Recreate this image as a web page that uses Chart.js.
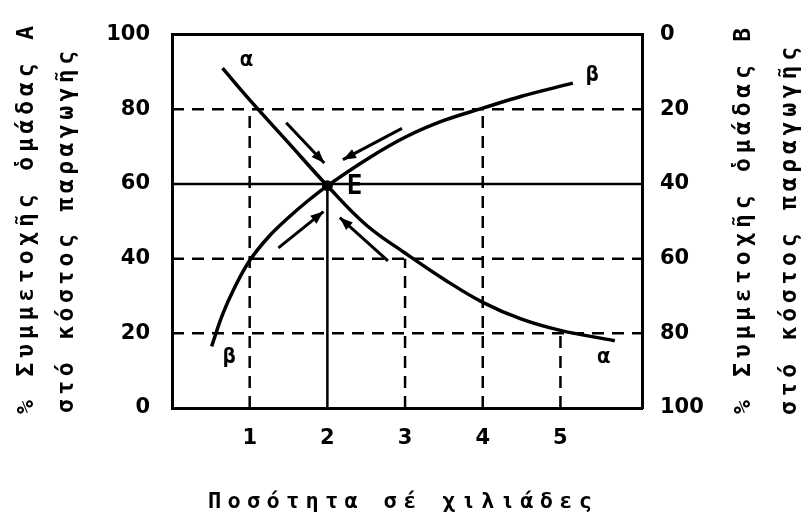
<!DOCTYPE html>
<html lang="el">
<head>
<meta charset="UTF-8">
<title>Ποσότητα σέ χιλιάδες</title>
<script src="https://cdn.jsdelivr.net/npm/chart.js"></script>
<style>
  html, body { margin: 0; padding: 0; background: #fff; }
  #wrap { width: 803px; height: 516px; }
</style>
</head>
<body>
<div id="wrap"><canvas id="chart" width="803" height="516"></canvas></div>
<script>
// tick labels
const xTicks = [1, 2, 3, 4, 5];
const yTicksLeft = [0, 20, 40, 60, 80, 100];
const yTicksRight = [0, 20, 40, 60, 80, 100];

// curve α (group A share, falling) and curve β (rising)
const curveA = [
  {x: 0.65, y: 91}, {x: 1, y: 82.5}, {x: 1.5, y: 71}, {x: 2, y: 59.5},
  {x: 2.5, y: 49}, {x: 3, y: 41.5}, {x: 3.5, y: 34.5}, {x: 4, y: 28.3},
  {x: 4.5, y: 23.8}, {x: 5, y: 20.8}, {x: 5.7, y: 18}
];
const curveB = [
  {x: 0.51, y: 16.5}, {x: 0.65, y: 25}, {x: 0.8, y: 32}, {x: 1, y: 39.5},
  {x: 1.25, y: 46}, {x: 1.5, y: 51}, {x: 1.75, y: 55.5}, {x: 2, y: 59.5},
  {x: 2.5, y: 66.5}, {x: 3, y: 72.5}, {x: 3.5, y: 77}, {x: 4, y: 80.3},
  {x: 4.5, y: 83.5}, {x: 5.16, y: 87}
];
const pointE = [{x: 2, y: 59.5}];

// arrows pointing to equilibrium E (from, to)
const arrows = [
  [{x: 1.47, y: 76.4}, {x: 1.96, y: 65.6}],
  [{x: 2.96, y: 74.9}, {x: 2.2, y: 66.5}],
  [{x: 1.37, y: 42.9}, {x: 1.95, y: 52.6}],
  [{x: 2.78, y: 39.4}, {x: 2.16, y: 51}]
];

// reference lines
const xMax = 6.05;
const dashedLines = [
  [{x: 0, y: 80}, {x: xMax, y: 80}],
  [{x: 0, y: 40}, {x: xMax, y: 40}],
  [{x: 0, y: 20}, {x: xMax, y: 20}],
  [{x: 1, y: 0}, {x: 1, y: 80}],
  [{x: 3, y: 0}, {x: 3, y: 40}],
  [{x: 4, y: 0}, {x: 4, y: 80}],
  [{x: 5, y: 0}, {x: 5, y: 20}]
];
const solidLines = [
  [{x: 0, y: 60}, {x: xMax, y: 60}],
  [{x: 2, y: 0}, {x: 2, y: 60}]
];

const curveLabels = [
  {text: 'α', x: 0.96, y: 93, size: 22},
  {text: 'β', x: 5.41, y: 89, size: 22},
  {text: 'E', x: 2.35, y: 59, size: 26},
  {text: 'β', x: 0.74, y: 13.7, size: 22},
  {text: 'α', x: 5.56, y: 13.5, size: 22}
];

const leftTitle = ['% Συμμετοχῆς ὁμάδας Α', 'στό κόστος παραγωγῆς'];
const rightTitle = ['% Συμμετοχῆς ὁμάδας Β', 'στό κόστος παραγωγῆς'];
const xTitle = 'Ποσότητα σέ χιλιάδες';

const FONT = '"DejaVu Sans Mono", monospace';

const datasets = [];
dashedLines.forEach(d => datasets.push({
  data: d, showLine: true, borderColor: '#000', borderWidth: 2.5,
  borderDash: [12, 8], pointRadius: 0
}));
solidLines.forEach(d => datasets.push({
  data: d, showLine: true, borderColor: '#000', borderWidth: 2.5, pointRadius: 0
}));
datasets.push({
  data: curveA, showLine: true, borderColor: '#000', borderWidth: 3.5,
  pointRadius: 0, tension: 0.4
});
datasets.push({
  data: curveB, showLine: true, borderColor: '#000', borderWidth: 3.5,
  pointRadius: 0, tension: 0.4
});
arrows.forEach(d => datasets.push({
  data: d, showLine: true, borderColor: '#000', borderWidth: 3,
  pointRadius: 0, arrowHead: true
}));
datasets.push({
  data: pointE, showLine: false, pointRadius: 5,
  pointBackgroundColor: '#000', pointBorderColor: '#000'
});

// arrowheads at the last point of arrow datasets
const arrowPlugin = {
  id: 'arrowHeads',
  afterDatasetsDraw(chart) {
    const ctx = chart.ctx;
    chart.data.datasets.forEach((ds, i) => {
      if (!ds.arrowHead) return;
      const pts = chart.getDatasetMeta(i).data;
      const a = pts[pts.length - 2], b = pts[pts.length - 1];
      const ang = Math.atan2(b.y - a.y, b.x - a.x);
      const len = 13, half = 5;
      ctx.save();
      ctx.fillStyle = '#000';
      ctx.translate(b.x, b.y);
      ctx.rotate(ang);
      ctx.beginPath();
      ctx.moveTo(0, 0);
      ctx.lineTo(-len, -half);
      ctx.lineTo(-len, half);
      ctx.closePath();
      ctx.fill();
      ctx.restore();
    });
  }
};

// α / β / E labels on the curves
const labelPlugin = {
  id: 'curveLabels',
  afterDatasetsDraw(chart) {
    const ctx = chart.ctx, xs = chart.scales.x, ys = chart.scales.y;
    ctx.save();
    ctx.fillStyle = '#000';
    ctx.textAlign = 'center';
    ctx.textBaseline = 'middle';
    curveLabels.forEach(l => {
      ctx.font = 'bold ' + l.size + 'px ' + FONT;
      ctx.fillText(l.text, xs.getPixelForValue(l.x), ys.getPixelForValue(l.y));
    });
    ctx.restore();
  }
};

function spaced(ctx, text, target) {
  ctx.letterSpacing = '0px';
  const w = ctx.measureText(text).width;
  const n = [...text].length;
  ctx.letterSpacing = ((target - w) / (n - 1)) + 'px';
}

function upText(ctx, text, x, yBottom, target) {
  ctx.save();
  ctx.translate(x, yBottom);
  ctx.rotate(-Math.PI / 2);
  spaced(ctx, text, target);
  ctx.textAlign = 'left';
  ctx.textBaseline = 'middle';
  ctx.fillText(text, 0, 0);
  ctx.restore();
}

const titlePlugin = {
  id: 'axisTitles',
  afterDraw(chart) {
    const ctx = chart.ctx;
    ctx.save();
    ctx.fillStyle = '#000';
    ctx.font = 'bold 23px ' + FONT;
    upText(ctx, leftTitle[0], 27, 414, 388);
    upText(ctx, leftTitle[1], 67, 413, 362);
    upText(ctx, rightTitle[0], 744, 414, 386);
    upText(ctx, rightTitle[1], 790, 415, 368);
    ctx.font = 'bold 22px ' + FONT;
    spaced(ctx, xTitle, 384);
    ctx.textAlign = 'left';
    ctx.textBaseline = 'middle';
    ctx.fillText(xTitle, 208, 502);
    ctx.restore();
  }
};

const tickFont = {family: '"DejaVu Sans"', size: 21, weight: 'bold'};
const border = {display: true, color: '#000', width: 3};
const noGrid = {display: false, drawTicks: false};

new Chart(document.getElementById('chart'), {
  type: 'scatter',
  data: {datasets},
  options: {
    responsive: false,
    animation: false,
    layout: {padding: 0},
    plugins: {legend: {display: false}, tooltip: {enabled: false}},
    scales: {
      x: {
        type: 'linear', position: 'bottom', min: 0, max: xMax,
        afterBuildTicks: s => { s.ticks = xTicks.map(v => ({value: v})); },
        afterFit: s => { s.height = 108; },
        grid: noGrid, border,
        ticks: {color: '#000', font: tickFont, padding: 18, maxRotation: 0}
      },
      x2: {
        type: 'linear', position: 'top', min: 0, max: xMax,
        afterFit: s => { s.height = 20; },
        grid: noGrid, border,
        ticks: {display: false}
      },
      y: {
        type: 'linear', position: 'left', min: 0, max: 100,
        afterBuildTicks: s => { s.ticks = yTicksLeft.map(v => ({value: v})); },
        afterFit: s => { s.width = 172; },
        grid: noGrid, border,
        ticks: {color: '#000', font: tickFont, padding: 22}
      },
      y2: {
        type: 'linear', position: 'right', min: 0, max: 100, reverse: true,
        afterBuildTicks: s => { s.ticks = yTicksRight.map(v => ({value: v})); },
        afterFit: s => { s.width = 161; },
        grid: noGrid, border,
        ticks: {color: '#000', font: tickFont, padding: 18}
      }
    }
  },
  plugins: [arrowPlugin, labelPlugin, titlePlugin]
});
</script>
</body>
</html>
